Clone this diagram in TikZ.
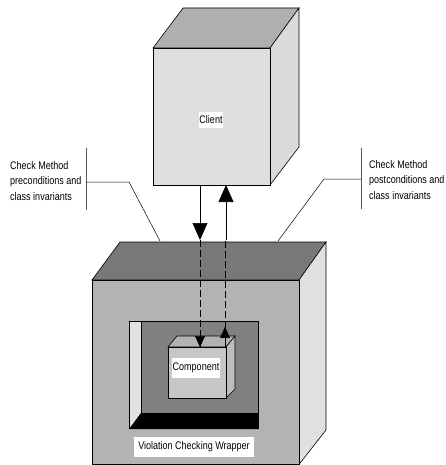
\documentclass[tikz,border=0pt]{standalone}
\usepackage{fontspec}
\setmainfont[FakeStretch=0.82]{Liberation Sans}
\usetikzlibrary{arrows.meta}
\definecolor{clientfront}{HTML}{DEDEDE}
\definecolor{clienttop}{HTML}{AFAFAF}
\definecolor{clientside}{HTML}{DADADA}
\definecolor{wrapfront}{HTML}{B3B3B3}
\definecolor{wraptop}{HTML}{787878}
\definecolor{wrapside}{HTML}{E0E0E0}
\definecolor{cavity}{HTML}{808080}
\definecolor{cavitywall}{HTML}{E2E2E2}
\definecolor{compfront}{HTML}{C6C6C6}
\definecolor{comptop}{HTML}{B2B2B2}
\definecolor{compside}{HTML}{BEBEBE}
\begin{document}
\begin{tikzpicture}[x=1pt,y=-1pt,line join=miter,
  font=\fontsize{11}{15.3}\selectfont,
  face/.style={draw=black,line width=0.6pt},
  tag/.style={fill=white,inner xsep=2pt,inner ysep=3pt},
  note/.style={align=left,anchor=west,inner sep=0pt},
  leader/.style={line width=0.5pt},
  bar/.style={draw=black!65,line width=1pt},
  bigtip/.style={line width=0.6pt,-{Triangle[length=17pt,width=15pt]}},
  smalltip/.style={line width=0.6pt,-{Triangle[length=11pt,width=10pt]}},
  flow/.style={line width=0.6pt,dash pattern=on 7pt off 3pt}]
\useasboundingbox (0,0) rectangle (445,465);

% client cube
\fill[clienttop,face] (153,48) -- (183,8) -- (299,8) -- (270,48) -- cycle;
\fill[clientside,face] (270,48) -- (299,8) -- (299,147) -- (270,185) -- cycle;
\fill[clientfront,face] (153,48) rectangle (270,185);
\node[tag,inner xsep=0.5pt,inner ysep=3.5pt] (client) at (211,120) {Client};

% wrapper block
\fill[wraptop,face] (92,280) -- (120,242) -- (326,242) -- (299,280) -- cycle;
\fill[wrapside,face] (299,280) -- (326,242) -- (326,430) -- (299,464.5) -- cycle;
\fill[wrapfront,face] (92,280) rectangle (299,464.5);

% cavity inside the wrapper
\fill[cavity] (141,321) rectangle (258,413);
\fill[cavitywall] (129,321) -- (141,321) -- (141,413) -- (129,429) -- cycle;
\fill[black] (129,429) -- (141,413) -- (258,413) -- (258,429) -- cycle;
\draw[line width=0.6pt] (129,429) -- (129,321) -- (258,321) -- (258,429);
\draw[line width=0.4pt] (141,321) -- (141,413);

% component cube
\fill[comptop,face] (168,347) -- (177,336) -- (235,336) -- (226,347) -- cycle;
\fill[compside,face] (226,347) -- (235,336) -- (235,389) -- (226,398) -- cycle;
\fill[compfront,face] (168,347) rectangle (226,398);
\node[tag,inner xsep=1pt,inner ysep=5pt] (component) at (196,368) {Component};

\node[tag,inner xsep=4.5pt,inner ysep=5pt] (wrapper) at (194,447) {Violation Checking Wrapper};

% connection points
\coordinate (cdn) at (200,185);
\coordinate (wdn) at (200,240);
\coordinate (kdn) at (200,347);
\coordinate (cup) at (226,185);
\coordinate (wup) at (226,240);
\coordinate (kup) at (225,348);
\coordinate (kupt) at (225,327);

% calls between client and component
\draw[bigtip] (cdn) -- (wdn);
\draw[bigtip] (wup) -- (cup);
\draw[flow] (wdn) -- (kdn);
\draw[smalltip] (200,336) -- (kdn);
\draw[flow] (kup) -- (225,240);
\draw[smalltip] (kup) -- (kupt);

% callouts
\coordinate (lbend) at (129,182);
\coordinate (lend) at (160,241);
\coordinate (rbend) at (324,179);
\coordinate (rend) at (278,241);
\draw[bar] (86,148) -- (86,210);
\draw[leader] (86,182) -- (lbend) -- (lend);
\node[note] (pre) at (10,181) {Check Method\\preconditions and\\class invariants};
\draw[bar] (361,148) -- (361,209);
\draw[leader] (361,179) -- (rbend) -- (rend);
\node[note] (post) at (369,180) {Check Method\\postconditions and\\class invariants};
\end{tikzpicture}
\end{document}
